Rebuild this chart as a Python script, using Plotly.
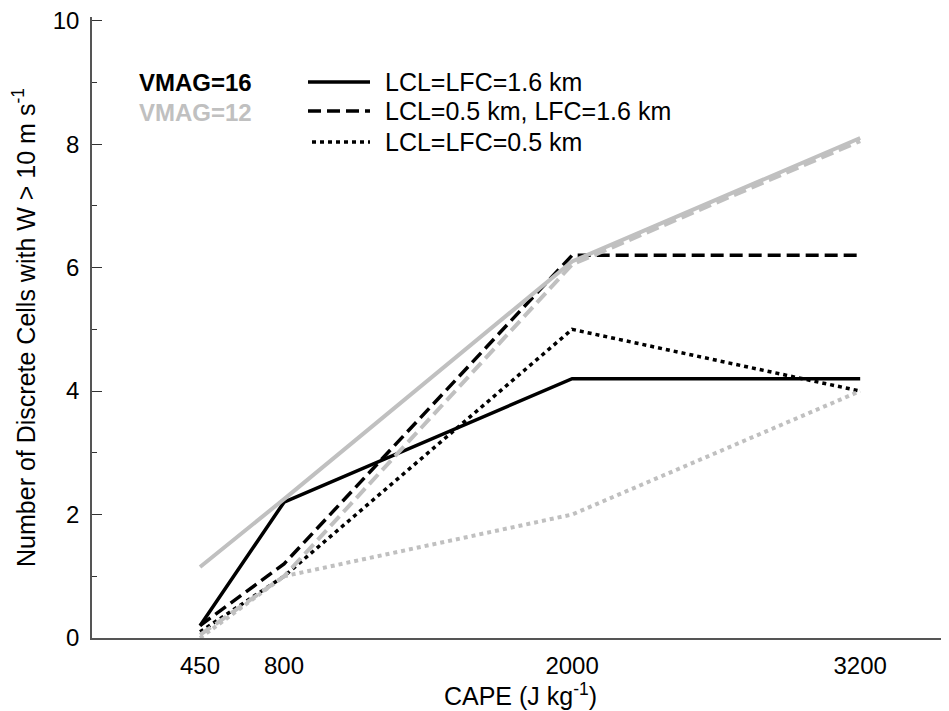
import plotly.graph_objects as go

cape = [450, 800, 2000, 3200]

# VMAG=16 (black)
v16_lcl_lfc_16 = [0.2, 2.2, 4.2, 4.2]
v16_lcl05_lfc16 = [0.2, 1.2, 6.2, 6.2]
v16_lcl_lfc_05 = [0.1, 1.0, 5.0, 4.0]

# VMAG=12 (gray)
v12_lcl_lfc_16 = [1.15, 2.25, 6.1, 8.1]
v12_lcl05_lfc16 = [0.05, 1.0, 6.05, 8.05]
v12_lcl_lfc_05 = [0.0, 1.0, 2.0, 4.0]

x_ticks = [450, 800, 2000, 3200]
y_ticks = [0, 2, 4, 6, 8, 10]

legend_labels = ["LCL=LFC=1.6 km", "LCL=0.5 km, LFC=1.6 km", "LCL=LFC=0.5 km"]
vmag_labels = ["VMAG=16", "VMAG=12"]

BLACK = "#000000"
GRAY = "#c0c0c0"
FONT = "Liberation Sans, Arial, sans-serif"

# page has an 8px body margin; figure coordinates = page coordinates - 8
OFF = 8
W, H = 949, 711
YMAX = 10.06
L = 92 - OFF
T = 17 - OFF
R = W - (949 - OFF)
B = H - (638 - OFF)
pw = W - L - R
ph = H - T - B


def px(x_page):
    return (x_page - OFF - L) / pw


def py(y_page):
    return (H - B - (y_page - OFF)) / ph


fig = go.Figure()

DASH = "13px,6px"
DOT = "4px,4px"
dashes = ["solid", DASH, DOT]

for ys, d in zip([v16_lcl_lfc_16, v16_lcl05_lfc16, v16_lcl_lfc_05], dashes):
    fig.add_trace(go.Scatter(x=cape, y=ys, mode="lines",
                             line=dict(color=BLACK, width=3.5, dash=d),
                             showlegend=False, hoverinfo="skip"))

for ys, d in zip([v12_lcl05_lfc16, v12_lcl_lfc_05, v12_lcl_lfc_16], [DASH, DOT, "solid"]):
    fig.add_trace(go.Scatter(x=cape, y=ys, mode="lines",
                             line=dict(color=GRAY, width=4, dash=d),
                             showlegend=False, hoverinfo="skip"))

# legend samples
leg_y = [82, 111, 142]
leg_x0 = [308, 308, 312]
for yy, x0, d, lab in zip(leg_y, leg_x0, dashes, legend_labels):
    fig.add_shape(type="line", xref="paper", yref="paper",
                  x0=px(x0), x1=px(370), y0=py(yy), y1=py(yy),
                  line=dict(color=BLACK, width=3.5, dash=d))
    fig.add_annotation(xref="paper", yref="paper", x=px(383), y=py(yy),
                       text=lab, showarrow=False, xanchor="left", yanchor="middle",
                       font=dict(family=FONT, size=25, color=BLACK))

for yy, lab, c in zip([82, 112], vmag_labels, [BLACK, GRAY]):
    fig.add_annotation(xref="paper", yref="paper", x=px(137), y=py(yy),
                       text="<b>" + lab + "</b>", showarrow=False,
                       xanchor="left", yanchor="middle",
                       font=dict(family=FONT, size=24, color=c))

fig.update_layout(
    width=W, height=H,
    margin=dict(l=L, r=R, t=T, b=B, pad=0, autoexpand=False),
    paper_bgcolor="white", plot_bgcolor="white",
    font=dict(family=FONT, size=24, color=BLACK),
    showlegend=False,
    xaxis=dict(range=[0, 3570], tickvals=x_ticks, ticktext=[str(v) for v in x_ticks],
               showgrid=False, zeroline=False, showline=True, linecolor="#555555",
               linewidth=1.5, ticks="", ticklabelstandoff=5,
               tickfont=dict(family=FONT, size=24),
               title=dict(text="CAPE (J kg<sup>-1</sup>)", standoff=2,
                          font=dict(family=FONT, size=25))),
    yaxis=dict(range=[0, YMAX], tickvals=y_ticks, showgrid=False, zeroline=False,
               showline=True, linecolor="#555555", linewidth=1.5,
               ticks="inside", ticklen=10, tickcolor="#333333", tickwidth=1.2,
               ticklabelstandoff=6, ticklabeloverflow="allow",
               tickfont=dict(family=FONT, size=24),
               minor=dict(tickvals=[1, 3, 5, 7, 9], ticks="inside", ticklen=5,
                          tickcolor="#333333", tickwidth=1.2),
               title=dict(text="Number of Discrete Cells with W > 10 m s<sup>-1</sup>",
                          standoff=14, font=dict(family=FONT, size=25))),
    yaxis2=dict(range=[0, YMAX], overlaying="y", side="right", tickvals=[2, 4, 6, 8],
                showticklabels=False, showgrid=False, zeroline=False, showline=False,
                ticks="inside", ticklen=6, tickcolor="#333333", tickwidth=1.5),
)

fig.add_trace(go.Scatter(x=[None], y=[None], yaxis="y2", showlegend=False, hoverinfo="skip"))

fig.write_html("out.html")
